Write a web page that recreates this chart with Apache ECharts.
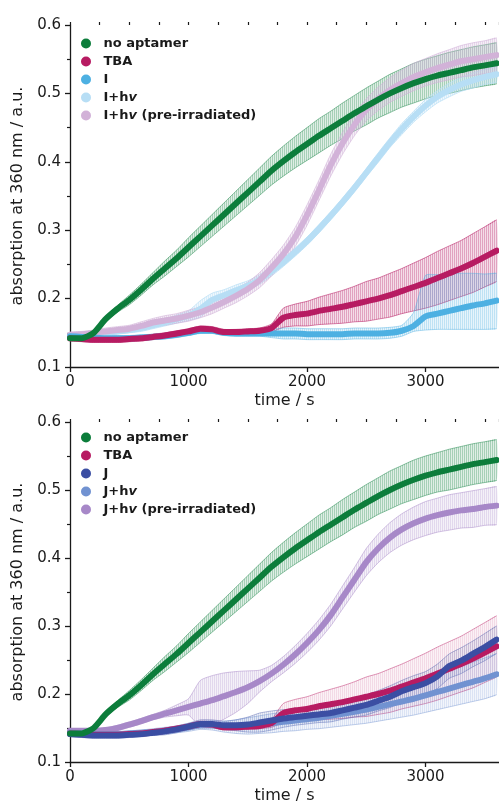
<!DOCTYPE html>
<html>
<head>
<meta charset="utf-8">
<script src="https://cdn.jsdelivr.net/npm/echarts@6.0.0/dist/echarts.min.js"></script>
<style>
html, body { margin: 0; padding: 0; background: #fff; }
#chart { width: 499px; height: 805px; }
</style>
</head>
<body>
<div id="chart"></div>
<script>
// time / s
var time = [0,100,200,300,400,500,600,700,800,900,1000,1100,1200,1300,1400,1500,1600,1700,1800,1900,
  2000,2100,2200,2300,2400,2500,2600,2700,2800,2900,3000,3100,3200,3300,3400,3500,3600];

// shared by both panels
var noApt = [0.142,0.142,0.150,0.170,0.185,0.198,0.213,0.229,0.244,0.259,0.275,0.291,0.307,0.323,0.339,0.355,0.371,0.387,0.401,0.414,
  0.426,0.438,0.449,0.460,0.471,0.481,0.491,0.500,0.508,0.515,0.521,0.526,0.530,0.534,0.538,0.541,0.544];
var noAptErr = [0.002,0.002,0.003,0.004,0.005,0.007,0.008,0.009,0.011,0.012,0.014,0.015,0.016,0.017,0.018,0.019,0.020,0.021,0.022,0.023,
  0.024,0.025,0.025,0.026,0.026,0.027,0.027,0.028,0.028,0.029,0.029,0.029,0.030,0.030,0.030,0.030,0.030];
var tba = [0.142,0.141,0.140,0.140,0.140,0.141,0.142,0.144,0.146,0.149,0.152,0.156,0.155,0.151,0.151,0.152,0.153,0.157,0.172,0.176,
  0.178,0.182,0.185,0.188,0.192,0.196,0.200,0.205,0.211,0.217,0.223,0.230,0.237,0.244,0.252,0.261,0.270];
var tbaErr = [0.004,0.004,0.004,0.004,0.004,0.004,0.004,0.004,0.004,0.004,0.004,0.004,0.004,0.004,0.004,0.004,0.004,0.006,0.014,0.016,
  0.018,0.020,0.022,0.024,0.026,0.029,0.030,0.032,0.033,0.035,0.037,0.039,0.040,0.041,0.043,0.044,0.045];

// top panel: aptamer I
var iMean = [0.145,0.144,0.143,0.142,0.142,0.142,0.143,0.144,0.145,0.147,0.150,0.153,0.153,0.150,0.149,0.149,0.149,0.149,0.149,0.149,
  0.148,0.148,0.148,0.148,0.149,0.149,0.149,0.150,0.153,0.160,0.174,0.178,0.182,0.186,0.190,0.193,0.197];
var iErrUp = [0.004,0.004,0.004,0.004,0.004,0.004,0.004,0.004,0.004,0.004,0.004,0.004,0.004,0.004,0.004,0.004,0.004,0.006,0.008,0.008,
  0.008,0.008,0.008,0.008,0.008,0.008,0.008,0.008,0.008,0.020,0.060,0.057,0.054,0.051,0.047,0.043,0.040];
var iErrDown = [0.004,0.004,0.004,0.004,0.004,0.004,0.004,0.004,0.004,0.004,0.004,0.004,0.004,0.004,0.004,0.004,0.004,0.006,0.008,0.008,
  0.008,0.008,0.008,0.008,0.008,0.008,0.008,0.008,0.008,0.008,0.020,0.023,0.027,0.031,0.035,0.038,0.041];
var ihv = [0.146,0.146,0.148,0.150,0.152,0.154,0.157,0.161,0.165,0.170,0.175,0.185,0.198,0.205,0.212,0.219,0.228,0.240,0.253,0.268,
  0.284,0.302,0.321,0.341,0.362,0.384,0.406,0.428,0.448,0.466,0.482,0.495,0.505,0.513,0.519,0.524,0.528];
var ihvErr = [0.004,0.004,0.004,0.004,0.004,0.004,0.005,0.005,0.005,0.006,0.007,0.012,0.010,0.008,0.008,0.007,0.007,0.007,0.006,0.006,
  0.006,0.006,0.006,0.006,0.006,0.006,0.007,0.007,0.008,0.008,0.009,0.009,0.010,0.010,0.011,0.011,0.012];
var ihvPre = [0.147,0.148,0.150,0.152,0.154,0.156,0.160,0.165,0.168,0.171,0.175,0.180,0.187,0.195,0.204,0.214,0.227,0.245,0.265,0.290,
  0.322,0.358,0.395,0.427,0.454,0.476,0.492,0.505,0.515,0.524,0.531,0.537,0.542,0.547,0.550,0.553,0.556];
var ihvPreErr = [0.004,0.004,0.004,0.005,0.005,0.005,0.006,0.006,0.007,0.007,0.008,0.008,0.009,0.009,0.010,0.010,0.011,0.012,0.013,0.014,
  0.015,0.015,0.016,0.016,0.016,0.016,0.017,0.018,0.019,0.020,0.020,0.021,0.022,0.023,0.024,0.024,0.025];

// bottom panel: aptamer J
var jMean = [0.141,0.140,0.139,0.139,0.139,0.140,0.141,0.143,0.145,0.148,0.152,0.156,0.156,0.154,0.154,0.155,0.158,0.161,0.164,0.166,
  0.168,0.170,0.172,0.176,0.180,0.184,0.190,0.196,0.204,0.210,0.216,0.226,0.241,0.249,0.259,0.269,0.280];
var jErr = [0.004,0.004,0.004,0.004,0.004,0.004,0.004,0.004,0.005,0.005,0.005,0.006,0.006,0.006,0.008,0.011,0.014,0.014,0.013,0.012,
  0.012,0.012,0.013,0.013,0.014,0.015,0.015,0.016,0.016,0.017,0.017,0.018,0.018,0.019,0.019,0.020,0.020];
var jhv = [0.143,0.142,0.141,0.141,0.141,0.142,0.143,0.144,0.146,0.148,0.151,0.154,0.154,0.152,0.152,0.153,0.155,0.157,0.159,0.161,
  0.163,0.165,0.168,0.171,0.174,0.177,0.181,0.185,0.189,0.193,0.198,0.203,0.208,0.213,0.218,0.223,0.229];
var jhvErr = [0.004,0.004,0.004,0.004,0.004,0.004,0.004,0.005,0.005,0.005,0.006,0.006,0.007,0.008,0.010,0.012,0.013,0.014,0.014,0.015,
  0.015,0.016,0.017,0.018,0.019,0.020,0.021,0.022,0.023,0.024,0.025,0.026,0.027,0.028,0.029,0.030,0.030];
var jhvPre = [0.146,0.146,0.146,0.147,0.150,0.155,0.160,0.166,0.171,0.176,0.181,0.186,0.191,0.197,0.203,0.210,0.219,0.230,0.243,0.258,
  0.275,0.294,0.316,0.342,0.368,0.394,0.414,0.430,0.442,0.451,0.458,0.463,0.467,0.470,0.472,0.475,0.477];
var jhvPreErr = [0.003,0.003,0.003,0.003,0.004,0.004,0.004,0.004,0.005,0.008,0.012,0.034,0.036,0.034,0.030,0.024,0.016,0.012,0.012,0.013,
  0.014,0.015,0.016,0.017,0.018,0.020,0.021,0.022,0.023,0.024,0.025,0.025,0.026,0.026,0.027,0.027,0.028];

var FONT = 'DejaVu Sans';
var INK = '#1a1a1a';

function rgba(hex, a) {
  var n = parseInt(hex.slice(1), 16);
  return 'rgba(' + (n >> 16) + ',' + ((n >> 8) & 255) + ',' + (n & 255) + ',' + a + ')';
}

// light tint + thin vertical strokes, like the dense error bars
function hatch(color, a) {
  var c = document.createElement('canvas');
  c.width = 2; c.height = 4;
  var ctx = c.getContext('2d');
  ctx.fillStyle = rgba(color, a * 0.3);
  ctx.fillRect(0, 0, 2, 4);
  ctx.fillStyle = rgba(color, a * 0.6);
  ctx.fillRect(0, 0, 1, 4);
  return { image: c, repeat: 'repeat' };
}

// error band drawn as one polygon through the axis coords
function band(name, mean, up, down, gi, color, fillA, edgeA) {
  down = down || up;
  var rows = time.map(function (t, i) { return [t, +(mean[i] - down[i]).toFixed(4), +(mean[i] + up[i]).toFixed(4)]; });
  var fill = hatch(color, fillA);
  return {
    type: 'custom', name: name + ' band' + gi, xAxisIndex: gi * 2, yAxisIndex: gi,
    z: 1, silent: true, clip: true, data: rows,
    encode: { x: 0, y: [1, 2] },
    renderItem: function (params, api) {
      if (params.dataIndex !== 0) return null;
      var hi = rows.map(function (r) { return api.coord([r[0], r[2]]); });
      var lo = rows.map(function (r) { return api.coord([r[0], r[1]]); });
      var edge = { stroke: rgba(color, edgeA), lineWidth: 1, fill: null };
      return {
        type: 'group',
        children: [
          { type: 'polygon', shape: { points: hi.concat(lo.slice().reverse()), smooth: 0.2 }, style: { fill: fill } },
          { type: 'polyline', shape: { points: hi, smooth: 0.2 }, style: edge },
          { type: 'polyline', shape: { points: lo, smooth: 0.2 }, style: edge }
        ]
      };
    }
  };
}

function meanLine(name, mean, gi, color) {
  return {
    type: 'line', name: name, xAxisIndex: gi * 2, yAxisIndex: gi,
    data: time.map(function (t, i) { return [t, mean[i]]; }),
    showSymbol: false, z: 3, smooth: 0.2, color: color,
    lineStyle: { width: 6, color: color, cap: 'round', join: 'round' }
  };
}

var C = {
  noApt: '#0c7d3b', tba: '#b71b62',
  i: '#4db0e2', ihv: '#b7def5', ihvPre: '#d2b2d8',
  j: '#3b4ea3', jhv: '#7192d1', jhvPre: '#a788c8'
};

var grids = [
  { left: 70, right: 0, top: 25, height: 342 },
  { left: 70, right: 0, top: 422, height: 341 }
];

var xAxes = [], yAxes = [];
grids.forEach(function (g, gi) {
  xAxes.push({
    type: 'value', gridIndex: gi, min: 0, max: 3620, interval: 1000,
    name: 'time / s', nameLocation: 'middle', nameGap: 26,
    nameTextStyle: { fontSize: 16, color: INK, fontFamily: FONT },
    axisLine: { lineStyle: { color: INK, width: 1.3 } },
    axisTick: { length: 5, lineStyle: { color: INK, width: 1.3 } },
    axisLabel: { fontSize: 15, color: INK, fontFamily: FONT, margin: 8, showMaxLabel: false,
      formatter: function (v) { return String(v); } },
    splitLine: { show: false }
  });
  // minor ticks every 250 s
  xAxes.push({
    type: 'value', gridIndex: gi, min: 0, max: 3620, interval: 250,
    axisLine: { show: false },
    axisTick: { length: 3, lineStyle: { color: INK, width: 1.2 } },
    axisLabel: { show: false }, splitLine: { show: false }
  });
  yAxes.push({
    type: 'value', gridIndex: gi, min: 0.1, max: 0.6, interval: 0.1,
    name: 'absorption at 360 nm / a.u.', nameLocation: 'middle', nameGap: 44,
    nameTextStyle: { fontSize: 16, color: INK, fontFamily: FONT },
    axisLine: { show: true, lineStyle: { color: INK, width: 1.3 } },
    axisTick: { show: true, length: 5, lineStyle: { color: INK, width: 1.3 } },
    minorTick: { show: true, splitNumber: 2, length: 3, lineStyle: { color: INK, width: 1.2 } },
    axisLabel: { fontSize: 15, color: INK, fontFamily: FONT, margin: 9, formatter: function (v) { return v.toFixed(1); } },
    splitLine: { show: false }
  });
});

var series = [
  band('no aptamer', noApt, noAptErr, null, 0, C.noApt, 0.45, 0.45),
  band('TBA', tba, tbaErr, null, 0, C.tba, 0.5, 0.55),
  band('I', iMean, iErrUp, iErrDown, 0, C.i, 0.45, 0.45),
  band('I+hv', ihv, ihvErr, null, 0, C.ihv, 0.7, 0.7),
  band('I+hv (pre-irradiated)', ihvPre, ihvPreErr, null, 0, C.ihvPre, 0.7, 0.6),
  meanLine('I+hv', ihv, 0, C.ihv),
  meanLine('I+hv (pre-irradiated)', ihvPre, 0, C.ihvPre),
  meanLine('I', iMean, 0, C.i),
  meanLine('TBA', tba, 0, C.tba),
  meanLine('no aptamer', noApt, 0, C.noApt),

  band('no aptamer', noApt, noAptErr, null, 1, C.noApt, 0.45, 0.45),
  band('TBA', tba, tbaErr, null, 1, C.tba, 0.18, 0.45),
  band('J', jMean, jErr, null, 1, C.j, 0.25, 0.4),
  band('J+hv', jhv, jhvErr, null, 1, C.jhv, 0.3, 0.45),
  band('J+hv (pre-irradiated)', jhvPre, jhvPreErr, null, 1, C.jhvPre, 0.4, 0.5),
  meanLine('J+hv (pre-irradiated)', jhvPre, 1, C.jhvPre),
  meanLine('J+hv', jhv, 1, C.jhv),
  meanLine('TBA', tba, 1, C.tba),
  meanLine('J', jMean, 1, C.j),
  meanLine('no aptamer', noApt, 1, C.noApt)
];

function legend(top, names) {
  return {
    orient: 'vertical', left: 76, top: top, itemWidth: 25, itemHeight: 10, itemGap: 5,
    icon: 'circle', selectedMode: false, data: names,
    formatter: function (name) { return name.replace('hv', 'h{i|v}'); },
    textStyle: {
      fontSize: 13, fontWeight: 'bold', color: INK, fontFamily: FONT,
      rich: { i: { fontSize: 13, fontWeight: 'bold', fontStyle: 'italic', color: INK, fontFamily: FONT } }
    }
  };
}

var chart = echarts.init(document.getElementById('chart'));
chart.setOption({
  animation: false,
  backgroundColor: '#fff',
  grid: grids,
  xAxis: xAxes,
  yAxis: yAxes,
  legend: [
    legend(32, ['no aptamer', 'TBA', 'I', 'I+hv', 'I+hv (pre-irradiated)']),
    legend(426, ['no aptamer', 'TBA', 'J', 'J+hv', 'J+hv (pre-irradiated)'])
  ],
  series: series
});
</script>
</body>
</html>
